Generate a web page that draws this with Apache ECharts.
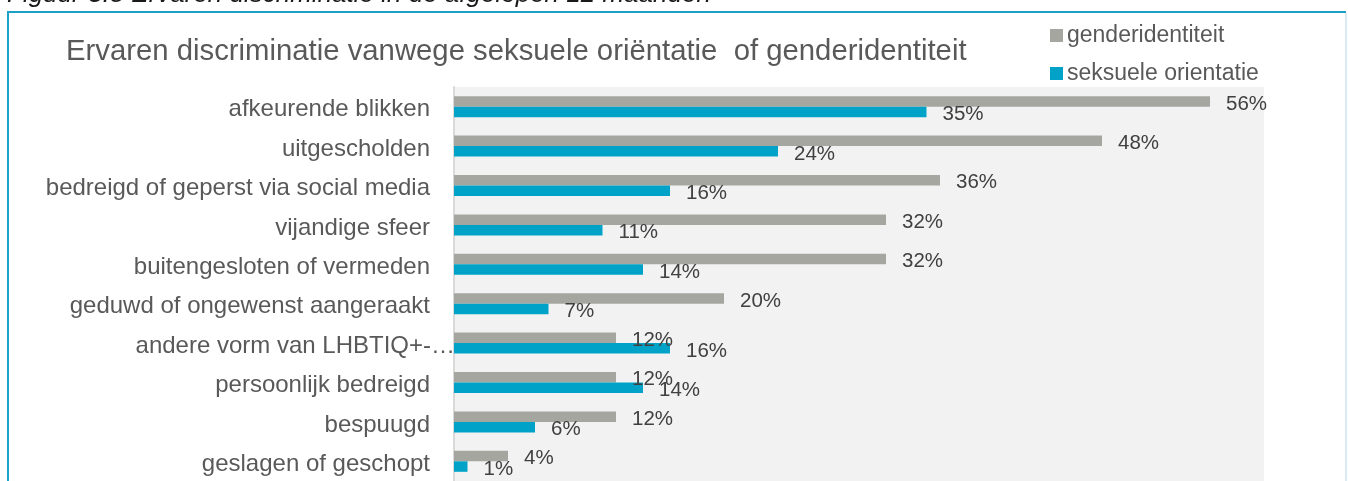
<!DOCTYPE html>
<html>
<head>
<meta charset="utf-8">
<title>Ervaren discriminatie</title>
<script src="https://cdn.jsdelivr.net/npm/echarts@6/dist/echarts.min.js"></script>
<style>
  html, body { margin: 0; padding: 0; background: #ffffff; }
  #chart { width: 1348px; height: 481px; }
</style>
</head>
<body>
<div id="chart"></div>
<script>
  // categorieen van boven naar beneden
  var categories = [
    'afkeurende blikken',
    'uitgescholden',
    'bedreigd of geperst via social media',
    'vijandige sfeer',
    'buitengesloten of vermeden',
    'geduwd of ongewenst aangeraakt',
    'andere vorm van LHBTIQ+-…',
    'persoonlijk bedreigd',
    'bespuugd',
    'geslagen of geschopt'
  ];
  var genderValues = [56, 48, 36, 32, 32, 20, 12, 12, 12, 4];
  var seksValues = [35, 24, 16, 11, 14, 7, 16, 14, 6, 1];
  var seriesNames = ['genderidentiteit', 'seksuele orientatie'];

  var FONT = "'Liberation Sans', Arial, sans-serif";
  var myChart = echarts.init(document.getElementById('chart'));

  var valueLabel = {
    show: true,
    position: 'right',
    distance: 16,
    offset: [0, 2.5],
    formatter: '{c}%',
    fontFamily: FONT,
    fontSize: 20.5,
    color: '#404040'
  };

  var option = {
    backgroundColor: '#ffffff',
    animation: false,
    title: {
      text: 'Ervaren discriminatie vanwege seksuele oriëntatie  of genderidentiteit',
      left: 66,
      top: 37,
      padding: 0,
      textStyle: {
        fontFamily: FONT,
        fontSize: 29.3,
        fontWeight: 'normal',
        color: '#595959'
      }
    },
    legend: {
      orient: 'vertical',
      left: 1050,
      top: 24,
      padding: 0,
      itemWidth: 13,
      itemHeight: 13,
      itemGap: 15,
      icon: 'rect',
      data: seriesNames,
      textStyle: {
        fontFamily: FONT,
        fontSize: 23,
        color: '#595959',
        padding: [0, 0, 0, -1]
      }
    },
    grid: {
      left: 454,
      top: 87,
      width: 810,
      height: 400,
      show: true,
      backgroundColor: '#f2f2f2',
      borderWidth: 0
    },
    xAxis: {
      type: 'value',
      min: 0,
      max: 60,
      show: false,
      splitLine: { show: false }
    },
    yAxis: {
      type: 'category',
      inverse: true,
      data: categories,
      axisLine: { lineStyle: { color: '#d9d9d9', width: 2 } },
      axisTick: { show: false },
      axisLabel: {
        margin: 24,
        fontFamily: FONT,
        fontSize: 24,
        color: '#595959',
        formatter: function (v) {
          // afgekapt label loopt in het origineel door tot over de as
          return v.indexOf('…') >= 0 ? '{cut|' + v + '}' : '{n|' + v + '}';
        },
        rich: {
          n: { fontFamily: FONT, fontSize: 24, color: '#595959', padding: [6, 0, 0, 0] },
          cut: { fontFamily: FONT, fontSize: 24, color: '#595959', padding: [6, -25, 0, 0] }
        }
      }
    },
    series: [
      {
        name: seriesNames[0],
        type: 'bar',
        data: genderValues,
        barWidth: 10.5,
        barGap: '0%',
        itemStyle: { color: '#a6a6a0' },
        label: valueLabel
      },
      {
        name: seriesNames[1],
        type: 'bar',
        data: seksValues,
        barWidth: 10.5,
        barGap: '0%',
        itemStyle: { color: '#00a3c7' },
        label: valueLabel
      }
    ],
    graphic: [
      // afgesneden figuurbijschrift boven de kader
      {
        type: 'text',
        left: 7,
        top: -18,
        style: {
          text: 'Figuur 3.5 Ervaren discriminatie in de afgelopen 12 maanden',
          font: 'italic 26px ' + FONT,
          fill: '#1a1a1a'
        }
      },
      {
        type: 'line',
        shape: { x1: 7, y1: 12, x2: 1346, y2: 12 },
        style: { stroke: '#1ba1c7', lineWidth: 2 }
      },
      {
        type: 'line',
        shape: { x1: 8, y1: 12, x2: 8, y2: 481 },
        style: { stroke: '#1ba1c7', lineWidth: 2 }
      },
      {
        type: 'line',
        shape: { x1: 1346, y1: 13, x2: 1346, y2: 481 },
        style: { stroke: '#cfe5ec', lineWidth: 1.5 }
      }
    ]
  };

  myChart.setOption(option);
</script>
</body>
</html>
